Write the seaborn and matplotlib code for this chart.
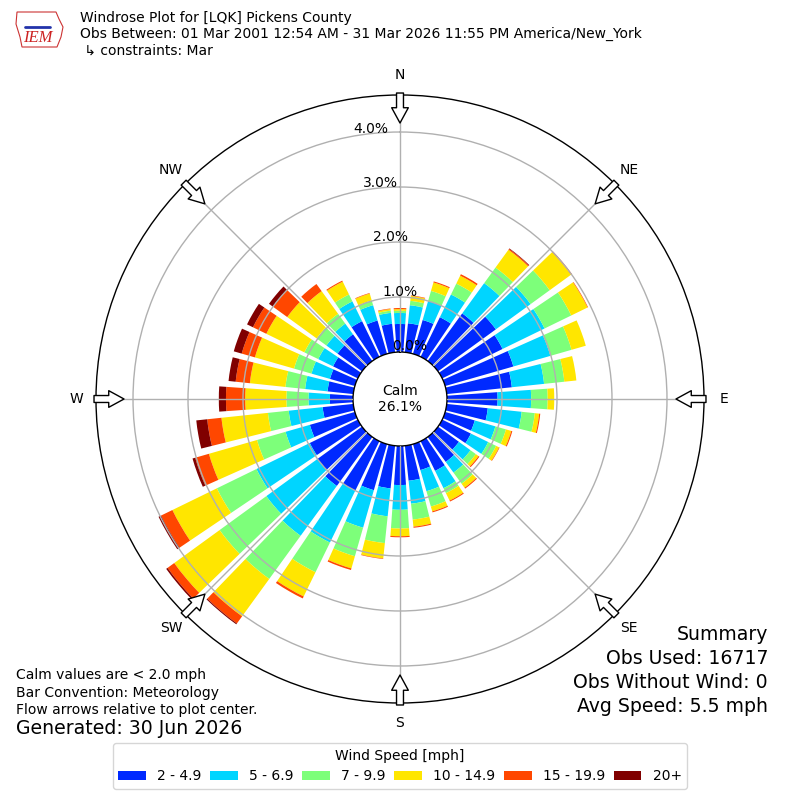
import numpy as np
import matplotlib
matplotlib.use("Agg")
import matplotlib.pyplot as plt
import seaborn as sns
from matplotlib.patches import Patch, Polygon
from matplotlib.lines import Line2D

# ---------------- data ----------------
directions = list(range(0, 360, 10))
speed_labels = ["2 - 4.9", "5 - 6.9", "7 - 9.9", "10 - 14.9", "15 - 19.9", "20+"]

s_2_5 = [0.51, 0.53, 0.64, 0.80, 1.07, 1.30, 1.22, 1.29, 1.19, 0.92,
         0.75, 0.56, 0.58, 0.47, 0.56, 0.60, 0.49, 0.64, 0.71, 0.78,
         0.87, 1.00, 1.10, 1.00, 0.97, 0.85, 0.56, 0.42, 0.47, 0.47,
         0.50, 0.55, 0.60, 0.72, 0.63, 0.52]
s_5_7 = [0.20, 0.33, 0.36, 0.46, 0.68, 0.78, 0.85, 0.70, 0.59, 0.61,
         0.62, 0.39, 0.35, 0.26, 0.24, 0.35, 0.40, 0.42, 0.45, 0.51,
         0.71, 1.05, 1.12, 1.15, 1.08, 0.46, 0.62, 0.39, 0.41, 0.35,
         0.30, 0.25, 0.24, 0.40, 0.29, 0.20]
s_7_10 = [0.04, 0.08, 0.19, 0.22, 0.35, 0.43, 0.54, 0.40, 0.37, 0.30,
          0.24, 0.20, 0.16, 0.12, 0.25, 0.10, 0.29, 0.29, 0.34, 0.49,
          0.54, 0.60, 0.97, 1.05, 0.80, 0.54, 0.38, 0.40, 0.36, 0.33,
          0.28, 0.22, 0.22, 0.14, 0.09, 0.04]
s_10_15 = [0.03, 0.09, 0.16, 0.16, 0.40, 0.48, 0.33, 0.27, 0.22, 0.12,
           0.08, 0.10, 0.06, 0.06, 0.09, 0.15, 0.09, 0.13, 0.14, 0.28,
           0.23, 0.49, 0.84, 1.02, 0.90, 0.91, 0.85, 0.75, 0.65, 0.74,
           0.77, 0.66, 0.51, 0.26, 0.13, 0.03]
s_15_20 = [0.02, 0.01, 0.02, 0.03, 0.02, 0.02, 0.01, 0.00, 0.00, 0.00,
           0.02, 0.02, 0.01, 0.02, 0.02, 0.02, 0.02, 0.02, 0.02, 0.01,
           0.03, 0.04, 0.16, 0.15, 0.23, 0.26, 0.26, 0.35, 0.26, 0.25,
           0.27, 0.32, 0.16, 0.02, 0.01, 0.01]
s_20p = [0.00, 0.00, 0.00, 0.00, 0.01, 0.00, 0.00, 0.00, 0.00, 0.00,
         0.00, 0.00, 0.00, 0.00, 0.00, 0.00, 0.00, 0.00, 0.00, 0.00,
         0.00, 0.00, 0.02, 0.03, 0.05, 0.05, 0.20, 0.13, 0.13, 0.15,
         0.12, 0.09, 0.00, 0.00, 0.00, 0.00]
series = [s_2_5, s_5_7, s_7_10, s_10_15, s_15_20, s_20p]

rticks = [0, 1, 2, 3, 4]
compass_labels = ["N", "NE", "E", "SE", "S", "SW", "W", "NW"]
compass_deg = [0, 45, 90, 135, 180, 225, 270, 315]
calm_pct = 26.1

title_lines = ["Windrose Plot for [LQK] Pickens County",
               "Obs Between: 01 Mar 2001 12:54 AM - 31 Mar 2026 11:55 PM America/New_York",
               " \u21b3 constraints: Mar"]
notes_left = ["Calm values are < 2.0 mph", "Bar Convention: Meteorology",
              "Flow arrows relative to plot center."]
generated = "Generated: 30 Jun 2026"
summary_lines = ["Summary", "Obs Used: 16717", "Obs Without Wind: 0",
                 "Avg Speed: 5.5 mph"]

# ---------------- style ----------------
sns.set_theme(style="white")
plt.rcParams['font.family'] = ['DejaVu Sans']
plt.rcParams['text.color'] = 'black'
colors = matplotlib.colormaps['jet'](np.linspace(0, 1, 7)[1:])
palette = sns.color_palette(colors)

fig = plt.figure(figsize=(8, 8), dpi=100)
ax = fig.add_axes([0.12, 0.12125, 0.76, 0.76], projection='polar')
ax.set_theta_zero_location('N')
ax.set_theta_direction(-1)
RMAX = 4.673
ax.set_rlim(0, RMAX)
ax.set_rorigin(-47 / 55)

theta = np.deg2rad(directions)
bottom = np.zeros(len(directions))
for vals, col, lab in zip(series, palette, speed_labels):
    v = np.array(vals)
    ax.bar(theta, v, width=np.deg2rad(8), bottom=bottom, color=col,
           linewidth=0, label=lab, zorder=1)
    bottom += v

ax.set_xticks(np.deg2rad(compass_deg))
ax.set_xticklabels([])
ax.set_yticks(rticks[1:])
ax.set_yticklabels([])
ax.grid(True, color='#b0b0b0', linewidth=1)
ax.set_axisbelow(False)
for sp in ax.spines.values():
    sp.set_color('black')
    sp.set_linewidth(1)

for r in rticks:
    ax.text(np.deg2rad(350), r, f"{r:.1f}%", ha='left', va='bottom',
            fontsize=10, color='black', zorder=5)

for lab, d in zip(compass_labels, compass_deg):
    ax.text(np.deg2rad(d), RMAX + 20 / 55, lab, ha='center', va='center',
            fontsize=10, color='black', clip_on=False)
    ax.annotate("", xy=(np.deg2rad(d), 276 / 55 - 47 / 55),
                xytext=(np.deg2rad(d), 306 / 55 - 47 / 55),
                arrowprops=dict(arrowstyle="simple,head_length=0.55,head_width=0.6,tail_width=0.25",
                                fc='white', ec='black', lw=1, shrinkA=0, shrinkB=0,
                                mutation_scale=20),
                annotation_clip=False, zorder=6)

ax.text(0.5, 0.5, f"Calm\n{calm_pct:.1f}%", transform=ax.transAxes,
        ha='center', va='center', fontsize=10, color='black', zorder=7)

# ---------------- texts ----------------
fig.text(80 / 800, 1 - 11 / 800, "\n".join(title_lines), ha='left', va='top',
         fontsize=10, color='black')
for i, t in enumerate(notes_left):
    fig.text(16 / 800, 1 - (675 + 17.5 * i) / 800, t, ha='left', va='center',
             fontsize=10, color='black')
fig.text(16 / 800, 1 - 729 / 800, generated, ha='left', va='center',
         fontsize=13.6, color='black')
for i, t in enumerate(summary_lines):
    fig.text(768 / 800, 1 - (635 + 23.7 * i) / 800, t, ha='right', va='center',
             fontsize=13.6, color='black')

# IEM logo (simple)
px = lambda x, y: (x / 800, 1 - y / 800)
logo = Polygon([px(17, 12), px(56, 12), px(59, 19), px(63, 27), px(61, 37),
                px(57, 47), px(22, 47), px(20, 37), px(16, 24)],
               closed=True, fill=False, ec='#cc3333', lw=0.8,
               transform=fig.transFigure)
fig.add_artist(logo)
fig.add_artist(Line2D([25 / 800, 50 / 800], [1 - 27 / 800, 1 - 27 / 800],
                      color='#2233aa', lw=2, transform=fig.transFigure))
fig.text(38 / 800, 1 - 38 / 800, "IEM", color='#cc2222', fontsize=12,
         fontstyle='italic', family='Liberation Serif', ha='center', va='center')

# ---------------- legend ----------------
handles = [Patch(facecolor=c, edgecolor='none') for c in palette]
leg = fig.legend(handles, speed_labels, loc='center',
                 bbox_to_anchor=(0.5, 1 - 766 / 800), ncol=6,
                 title="Wind Speed [mph]",
                 prop={'family': 'DejaVu Sans', 'size': 10},
                 title_fontproperties={'family': 'DejaVu Sans', 'size': 10},
                 frameon=True, fancybox=True, handlelength=2.0,
                 handleheight=0.7, handletextpad=0.8, columnspacing=0.62,
                 borderpad=0.4)
leg.get_frame().set_edgecolor('#cccccc')
leg.get_frame().set_linewidth(1)
for t in leg.get_texts():
    t.set_color('black')
leg.get_title().set_color('black')

fig.savefig("out.png", dpi=100)
